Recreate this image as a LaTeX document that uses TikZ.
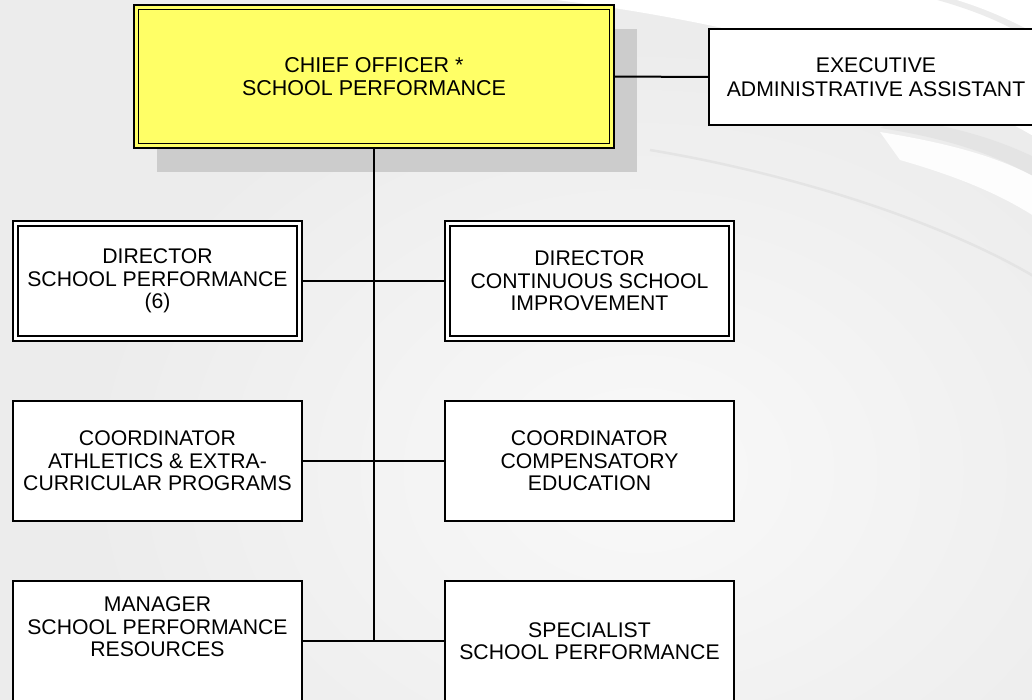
\documentclass[tikz,border=0pt]{standalone}
\usepackage{fontspec}
\setmainfont{Liberation Sans}
\usetikzlibrary{backgrounds}
\definecolor{chiefyellow}{HTML}{FFFF66}
\definecolor{shadowgray}{HTML}{CCCCCC}
\definecolor{bggray}{HTML}{ECECEC}
\definecolor{bglight}{HTML}{F9F9F9}
\definecolor{streak}{HTML}{E4E4E4}
\tikzset{
  box/.style={draw=black, line width=2pt, fill=white, rectangle, outer sep=0pt,
    inner sep=0pt, minimum width=289pt, minimum height=120pt, align=center,
    font=\fontsize{21.2}{22.5}\selectfont},
  chiefbox/.style={box, fill=chiefyellow, minimum width=480pt, minimum height=143pt,
    font=\fontsize{21.5}{23.5}\selectfont},
  execbox/.style={box, minimum width=334pt, minimum height=96pt,
    font=\fontsize{21.2}{24}\selectfont},
  innerline/.style={draw=black, line width=1.6pt},
  link/.style={draw=black, line width=2pt},
}
\begin{document}
\begin{tikzpicture}[x=1pt,y=-1pt]
\useasboundingbox (0,0) rectangle (1032,699);
\clip (0,0) rectangle (1032,699);
\begin{scope}[on background layer]
  \fill[bggray] (-5,-5) rectangle (1040,705);
  \shade[inner color=bglight, outer color=bggray] (640,470) ellipse (560pt and 430pt);
  \fill[white] (540,-2) .. controls (770,25) and (950,85) .. (1040,140) -- (1040,-2) -- cycle;
  \fill[bggray] (930,-2) .. controls (975,10) and (1010,25) .. (1040,45) -- (1040,-2) -- cycle;
  \fill[white] (950,-2) .. controls (985,8) and (1015,22) .. (1040,36) -- (1040,-2) -- cycle;
  \fill[streak] (880,128) .. controls (960,140) and (1005,160) .. (1040,180) -- (1040,160) .. controls (1000,140) and (960,128) .. (900,118) -- cycle;
  \fill[white!60!bglight] (900,160) .. controls (970,180) and (1010,200) .. (1040,220) -- (1040,180) .. controls (1005,160) and (960,145) .. (880,132) -- cycle;
  \draw[streak, line width=2.5pt] (650,150) .. controls (800,175) and (950,225) .. (1040,280);
\end{scope}

% nodes
\node[chiefbox] (chief) at (374,76.5) {CHIEF OFFICER *\\SCHOOL PERFORMANCE};
\node[execbox] (exec) at (876,77) {EXECUTIVE\\ADMINISTRATIVE ASSISTANT};
\node[box] (dirsp) at (157.5,281) {DIRECTOR\\SCHOOL PERFORMANCE\\(6)};
\node[box] (dircsi) at (589.5,281) {DIRECTOR\\CONTINUOUS SCHOOL\\IMPROVEMENT};
\node[box] (coordath) at (157.5,461) {COORDINATOR\\ATHLETICS \& EXTRA-\\CURRICULAR PROGRAMS};
\node[box] (coordcomp) at (589.5,461) {COORDINATOR\\COMPENSATORY\\EDUCATION};
\node[box, label={[name=mgrtext, align=center, font=\fontsize{21.2}{22.5}\selectfont, yshift=14pt]center:MANAGER\\SCHOOL PERFORMANCE\\RESOURCES}] (mgr) at (157.5,641) {};
\node[box] (spec) at (589.5,641) {SPECIALIST\\SCHOOL PERFORMANCE};

% shadow of the chief box
\begin{scope}[on background layer]
  \fill[shadowgray] ([shift={(23pt,-24pt)}]chief.north west) rectangle ([shift={(23pt,-24pt)}]chief.south east);
\end{scope}

% inner lines of double borders
\draw[innerline] ([shift={(4.5pt,-4.5pt)}]chief.north west) rectangle ([shift={(-4.5pt,4.5pt)}]chief.south east);
\draw[innerline] ([shift={(5pt,-5pt)}]dirsp.north west) rectangle ([shift={(-5pt,5pt)}]dirsp.south east);
\draw[innerline] ([shift={(5pt,-5pt)}]dircsi.north west) rectangle ([shift={(-5pt,5pt)}]dircsi.south east);

% connectors
\coordinate (trunkend) at (chief.south |- mgr.east);
\draw[link] (chief.east) -- (exec.west);
\draw[link] (chief.south) -- (trunkend);
\draw[link] (dirsp.east) -- (dircsi.west);
\draw[link] (coordath.east) -- (coordcomp.west);
\draw[link] (mgr.east) -- (spec.west);
\end{tikzpicture}
\end{document}
